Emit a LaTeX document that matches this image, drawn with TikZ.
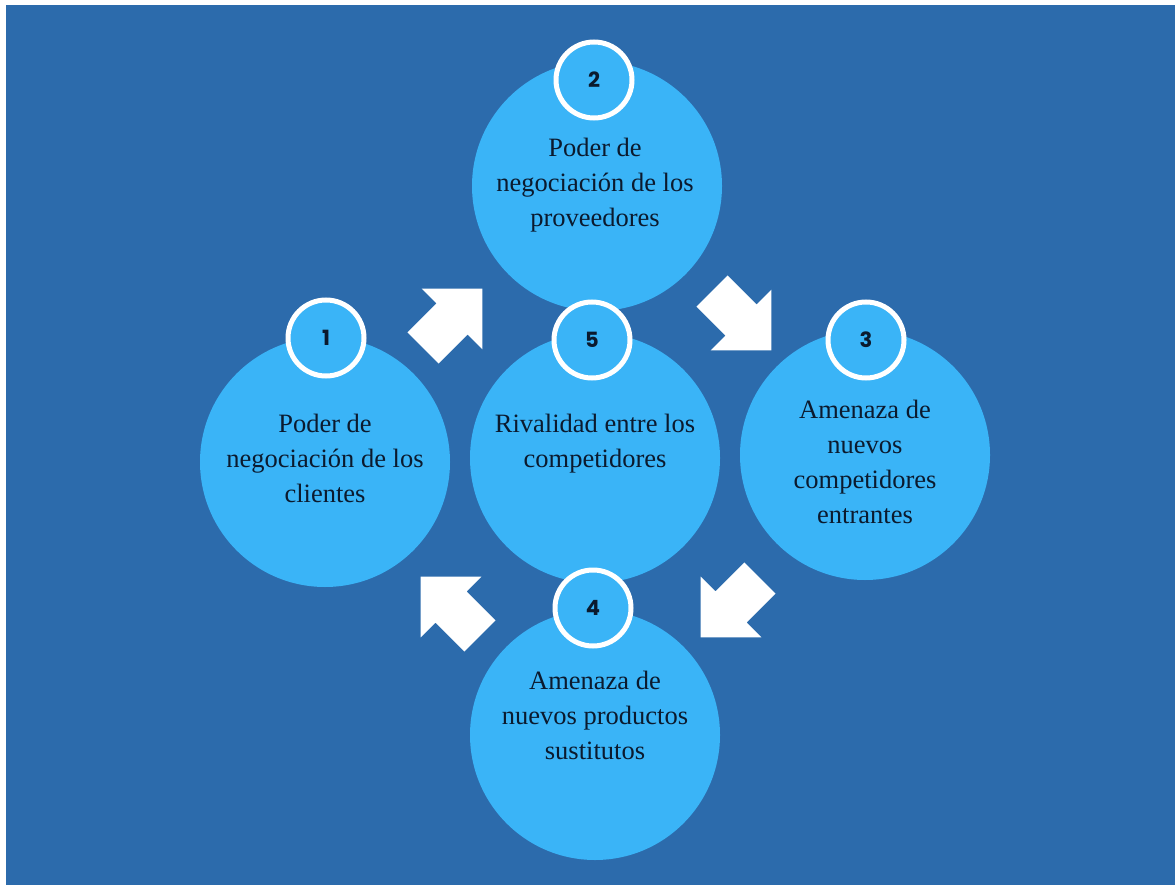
\documentclass[tikz,border=0pt]{standalone}
\usepackage{fontspec}
\setmainfont{Liberation Serif}
\newfontfamily\numfont{Poppins}
\definecolor{bgblue}{HTML}{2C6BAC}
\definecolor{ltblue}{HTML}{3AB4F7}
\definecolor{txtdark}{HTML}{0B1A2E}
\tikzset{
  bigcirc/.style={circle, fill=ltblue, minimum size=250pt, inner sep=0pt},
  numcirc/.style={circle, fill=ltblue, draw=white, line width=5pt, minimum size=76pt, inner sep=0pt,
    font=\numfont\bfseries\fontsize{21}{21}\selectfont, text=txtdark},
  bodytext/.style={align=center, inner sep=0pt, text=txtdark, font=\fontsize{26.5}{35}\selectfont},
  arrowfill/.style={fill=white},
  blockarrow/.pic={\fill[arrowfill] (-41,-22) -- (0,-22) -- (0,-43) -- (43,0) -- (0,43) -- (0,22) -- (-41,22) -- cycle;}
}
\begin{document}
\begin{tikzpicture}[x=1pt,y=-1pt]
\useasboundingbox (0,0) rectangle (1175,885);
\fill[bgblue] (6,5) rectangle (1175,885);
% big circles
\node[bigcirc] (c2) at (597,186) {};
\node[bigcirc] (c1) at (325,462) {};
\node[bigcirc] (c5) at (595,458) {};
\node[bigcirc] (c3) at (865,455) {};
\node[bigcirc] (c4) at (595,735) {};
% texts
\node[bodytext] (t2) at (595,185) {Poder de\\negociación de los\\proveedores};
\node[bodytext] (t1) at (325,458) {Poder de\\negociación de los\\clientes};
\node[bodytext] (t5) at (595,444) {Rivalidad entre los\\competidores};
\node[bodytext] (t3) at (865,462) {Amenaza de\\nuevos\\competidores\\entrantes};
\node[bodytext] (t4) at (595,715) {Amenaza de\\nuevos productos\\sustitutos};
% number circles
\node[numcirc] (n2) at (594,80) {2};
\node[numcirc] (n1) at (326,338) {1};
\node[numcirc] (n5) at (592,340) {5};
\node[numcirc] (n3) at (866,340) {3};
\node[numcirc] (n4) at (593,608) {4};
% arrows
\coordinate (a1) at (452,319);
\coordinate (a2) at (741,320);
\coordinate (a3) at (731,607);
\coordinate (a4) at (451,607);
\pic[rotate=45] at (a1) {blockarrow};
\pic[rotate=-45] at (a2) {blockarrow};
\pic[rotate=-135] at (a3) {blockarrow};
\pic[rotate=135] at (a4) {blockarrow};
\end{tikzpicture}
\end{document}
